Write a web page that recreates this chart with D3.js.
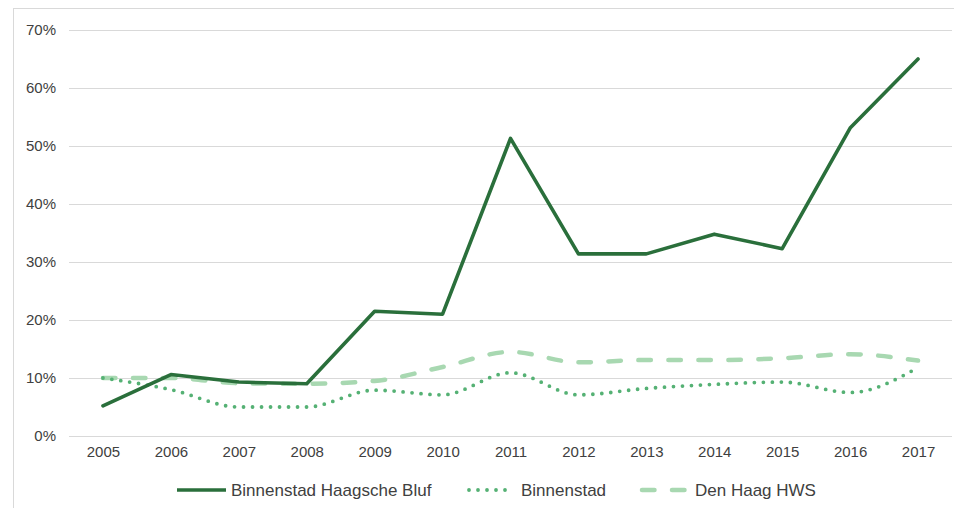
<!DOCTYPE html>
<html>
<head>
<meta charset="utf-8">
<script src="https://cdn.jsdelivr.net/npm/d3@7"></script>
<style>
  body { margin: 0; background: #fff; }
  svg { display: block; font-family: "Liberation Sans", Arial, sans-serif; }
</style>
</head>
<body>
<div id="chart"></div>
<script>
// data
var years = ['2005','2006','2007','2008','2009','2010','2011','2012','2013','2014','2015','2016','2017']
var haagscheBluf = [5.2, 10.6, 9.3, 9.0, 21.5, 21.0, 51.3, 31.4, 31.4, 34.8, 32.3, 53.1, 65.0]
var binnenstad = [10.0, 8.0, 5.0, 5.0, 7.9, 7.1, 10.9, 7.1, 8.2, 8.9, 9.3, 7.5, 11.8]
var denHaagHWS = [10.0, 10.0, 9.1, 9.0, 9.5, 11.9, 14.5, 12.7, 13.1, 13.1, 13.4, 14.1, 13.0]
var yTicks = [0, 10, 20, 30, 40, 50, 60, 70]

var series = [
  { name: 'Binnenstad Haagsche Bluf', values: haagscheBluf, color: '#2a6f3b', width: 3.6, dash: null, curve: d3.curveLinear },
  { name: 'Binnenstad', values: binnenstad, color: '#55b174', width: 3.8, dash: '0,9', curve: d3.curveMonotoneX },
  { name: 'Den Haag HWS', values: denHaagHWS, color: '#a8d8b1', width: 4.5, dash: '12.5,17.5', curve: d3.curveMonotoneX }
]

var W = 954, H = 508
var svg = d3.select('#chart')
              .append('svg')
                .attr('width', W)
                .attr('height', H)

// chart frame (cropped on the right and bottom)
svg.append('rect')
      .attr('x', 13.5)
      .attr('y', 8.5)
      .attr('width', 980)
      .attr('height', 540)
      .style('fill', 'none')
      .style('stroke', '#d9d9d9')

var x = d3.scalePoint()
            .domain(years)
            .range([69, 952])
            .padding(0.5)

var y = d3.scaleLinear()
            .domain([0, 70])
            .range([436, 30])

// gridlines
svg.append('g')
    .selectAll('line')
    .data(yTicks)
    .join('line')
      .attr('x1', 69)
      .attr('x2', 952)
      .attr('y1', d => Math.round(y(d)) + 0.5)
      .attr('y2', d => Math.round(y(d)) + 0.5)
      .style('stroke', '#d9d9d9')
      .style('stroke-width', 1)

// y axis labels
var yAxis = svg.append('g')
    .attr('transform', 'translate(56,0)')
    .call(d3.axisLeft(y).tickValues(yTicks).tickSize(0).tickPadding(0).tickFormat(d => d + '%'))
yAxis.select('.domain').remove()
yAxis.selectAll('text')
    .style('font-size', '15px')
    .style('font-family', '"Liberation Sans", Arial, sans-serif')
    .style('fill', '#404040')

// x axis labels
var xAxis = svg.append('g')
    .attr('transform', 'translate(0,446)')
    .call(d3.axisBottom(x).tickSize(0).tickPadding(0))
xAxis.select('.domain').remove()
xAxis.selectAll('text')
    .attr('dy', '0.71em')
    .style('font-size', '15px')
    .style('font-family', '"Liberation Sans", Arial, sans-serif')
    .style('fill', '#404040')

// lines: draw lighter ones first, dark one on top
var order = [2, 1, 0]
order.forEach(function(i) {
  var s = series[i]
  var line = d3.line()
                .x((d, j) => x(years[j]))
                .y(d => y(d))
                .curve(s.curve)
  svg.append('path')
      .datum(s.values)
      .attr('d', line)
      .style('fill', 'none')
      .style('stroke', s.color)
      .style('stroke-width', s.width)
      .style('stroke-linecap', 'round')
      .style('stroke-linejoin', 'round')
      .style('stroke-dasharray', s.dash)
})

// legend
var legendPos = [
  { x1: 177, x2: 226, tx: 231 },
  { x1: 467, x2: 513, tx: 521 },
  { x1: 640, x2: 686, tx: 695 }
]
var legend = svg.append('g')
series.forEach(function(s, i) {
  var p = legendPos[i]
  legend.append('line')
      .attr('x1', p.x1 + (s.dash ? 2 : 0))
      .attr('x2', p.x2)
      .attr('y1', 490)
      .attr('y2', 490)
      .style('stroke', s.color)
      .style('stroke-width', s.width)
      .style('stroke-linecap', s.dash ? 'round' : 'butt')
      .style('stroke-dasharray', s.dash)
  legend.append('text')
      .attr('x', p.tx)
      .attr('y', 490)
      .attr('dy', '0.35em')
      .style('font-size', '17px')
      .style('fill', '#404040')
      .text(s.name)
})
</script>
</body>
</html>
